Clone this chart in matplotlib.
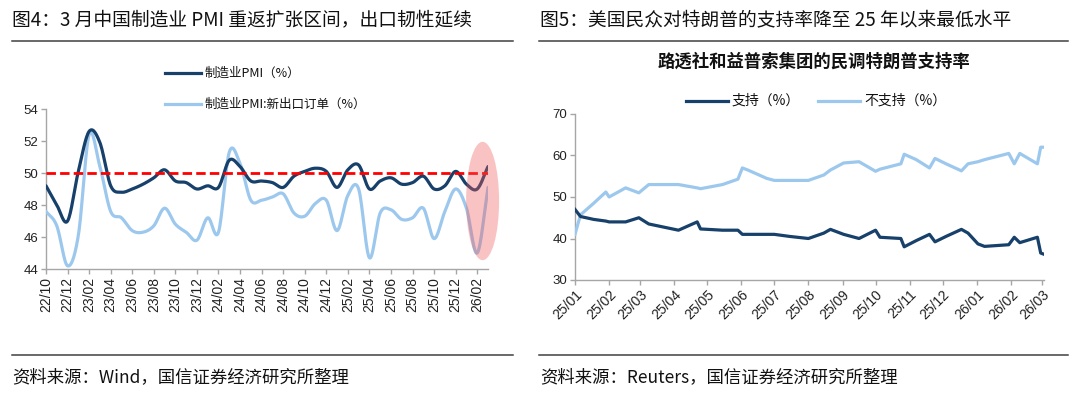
import numpy as np
import pandas as pd
import matplotlib
matplotlib.use('Agg')
import matplotlib.pyplot as plt
from matplotlib.lines import Line2D
from matplotlib.patches import Ellipse

plt.rcParams['font.family'] = ['Noto Sans CJK SC', 'DejaVu Sans']

# ---------------- data: figure 4 ----------------
pmi_months = list(pd.period_range('2022-10', '2026-03', freq='M').strftime('%y/%m'))
pmi = [49.2, 48.0, 47.0,
       50.1, 52.6, 51.9, 49.2, 48.8, 49.0, 49.3, 49.7, 50.2, 49.5, 49.4, 49.0,
       49.2, 49.1, 50.8, 50.4, 49.5, 49.5, 49.4, 49.1, 49.8, 50.1, 50.3, 50.1,
       49.1, 50.2, 50.5, 49.0, 49.5, 49.7, 49.3, 49.4, 49.8, 49.0, 49.2, 50.1,
       49.3, 49.0, 50.4]
pmi_export = [47.6, 46.7, 44.2,
              46.1, 52.4, 50.4, 47.6, 47.2, 46.4, 46.3, 46.7, 47.8, 46.8, 46.3, 45.8,
              47.2, 46.3, 51.3, 50.6, 48.3, 48.3, 48.5, 48.7, 47.5, 47.3, 48.1, 48.3,
              46.4, 48.6, 49.0, 44.7, 47.5, 47.7, 47.1, 47.2, 47.8, 45.9, 47.6, 49.0,
              47.8, 45.0, 49.1]
threshold = 50
left_series = ['制造业PMI（%）', '制造业PMI:新出口订单（%）']

# ---------------- data: figure 5 ----------------
poll_dates = ['2025-01-20', '2025-01-25', '2025-02-06', '2025-02-17', '2025-02-20',
              '2025-03-07', '2025-03-19', '2025-03-28', '2025-04-24', '2025-05-11',
              '2025-05-14', '2025-06-03', '2025-06-17', '2025-06-21', '2025-06-26',
              '2025-07-13', '2025-07-20', '2025-08-03', '2025-08-20', '2025-09-03',
              '2025-09-09', '2025-09-21', '2025-10-05', '2025-10-20', '2025-10-24',
              '2025-11-12', '2025-11-15', '2025-11-26', '2025-12-08', '2025-12-13',
              '2025-12-23', '2026-01-06', '2026-01-12', '2026-01-21', '2026-01-27',
              '2026-02-18', '2026-02-23', '2026-02-28', '2026-03-16', '2026-03-19',
              '2026-03-22']
approve = [47, 45.3, 44.6, 44.2, 44, 44, 45, 43.5, 42, 44,
           42.3, 42, 42, 41, 41, 41, 41, 40.5, 40, 41.3,
           42.2, 41, 40, 42, 40.3, 40, 38, 39.5, 41, 39.2,
           40.5, 42.2, 41.3, 38.7, 38.1, 38.5, 40.3, 39, 40.3, 36.5,
           36.2]
disapprove = [41, 45.7, 48.5, 51.2, 50, 52.2, 51, 53, 53, 52.2,
              52, 53, 54.3, 57, 56.5, 54.5, 54, 54, 54, 55.3,
              56.5, 58.2, 58.5, 56.2, 56.7, 58, 60.3, 59, 57, 59.3,
              58, 56.3, 58, 58.5, 59, 60.5, 58, 60.5, 58, 62,
              62]
right_series = ['支持（%）', '不支持（%）']

titles = ['图4：3 月中国制造业 PMI 重返扩张区间，出口韧性延续',
          '图5：美国民众对特朗普的支持率降至 25 年以来最低水平']
subtitle = '路透社和益普索集团的民调特朗普支持率'
sources = ['资料来源：Wind，国信证券经济研究所整理',
           '资料来源：Reuters，国信证券经济研究所整理']

# ---------------- style ----------------
DARK = '#17406a'
LIGHT = '#9dc8ee'
SPINE = '#a6a6a6'
W, H = 1080, 395
NUM_FONT = 'Liberation Sans'


def fx(x):
    return x / W


def fy(y):
    return 1 - y / H


def smooth(x, y, n=16):
    P = np.column_stack([np.asarray(x, float), np.asarray(y, float)])
    Pe = np.vstack([2 * P[0] - P[1], P, 2 * P[-1] - P[-2]])
    t = np.linspace(0, 1, n, endpoint=False)[:, None]
    h00 = 2 * t**3 - 3 * t**2 + 1
    h10 = t**3 - 2 * t**2 + t
    h01 = -2 * t**3 + 3 * t**2
    h11 = t**3 - t**2
    out = []
    for i in range(1, len(Pe) - 2):
        p0, p1, p2, p3 = Pe[i - 1:i + 3]
        m1 = (p2 - p0) / 2
        m2 = (p3 - p1) / 2
        out.append(h00 * p1 + h10 * m1 + h01 * p2 + h11 * m2)
    out.append(P[-1:])
    S = np.vstack(out)
    return S[:, 0], S[:, 1]


fig = plt.figure(figsize=(W / 100, H / 100), dpi=100)

# header / footer rules and texts
for (x0, x1) in [(12, 513), (539, 1068)]:
    for yy in (41, 355):
        fig.add_artist(Line2D([fx(x0), fx(x1)], [fy(yy), fy(yy)], color='#404040', lw=1.1))
fig.text(fx(12), fy(20), titles[0], fontsize=13.5, va='center', ha='left', color='#111')
fig.text(fx(540), fy(20), titles[1], fontsize=13.5, va='center', ha='left', color='#111')
fig.text(fx(12), fy(377), sources[0], fontsize=12.5, va='center', ha='left', color='#111')
fig.text(fx(540), fy(377), sources[1], fontsize=12.5, va='center', ha='left', color='#111')

# ---------------- left chart ----------------
axL = fig.add_axes([fx(46), fy(269), (488 - 46) / W, (269 - 109) / H])
idx = np.arange(len(pmi_months))
xs, ys = smooth(idx, pmi_export)
axL.plot(xs, ys, color=LIGHT, lw=2.3, solid_capstyle='round', zorder=3)
xs, ys = smooth(idx, pmi)
axL.plot(xs, ys, color=DARK, lw=2.3, solid_capstyle='round', zorder=4)
axL.axhline(threshold, color='#ff0000', lw=2.0, linestyle=(0, (3.4, 1.5)), zorder=5)
ell = Ellipse((40.5, 48.25), width=3.06, height=7.4, facecolor='#f05a5a', alpha=0.36,
              edgecolor='none', zorder=6, clip_on=False)
axL.add_patch(ell)
axL.set_xlim(0, len(pmi_months) - 1)
axL.set_ylim(44, 54)
axL.set_yticks(np.arange(44, 55, 2))
axL.set_xticks(idx[::2])
axL.set_xticklabels(pmi_months[::2], rotation=90, fontsize=10, family=NUM_FONT)
for lab in axL.get_yticklabels():
    lab.set_family(NUM_FONT)
axL.tick_params(axis='y', labelsize=9.5)

# ---------------- right chart ----------------
axR = fig.add_axes([fx(575), fy(280), (1044 - 575) / W, (280 - 114) / H])
dates = pd.to_datetime(poll_dates)
axR.plot(dates, disapprove, color=LIGHT, lw=2.3, solid_joinstyle='round', zorder=3)
axR.plot(dates, approve, color=DARK, lw=2.3, solid_joinstyle='round', zorder=4)
axR.set_ylim(30, 70)
axR.set_yticks(np.arange(30, 71, 10))
axR.set_xlim(dates[0], dates[-1])
tick_dates = pd.date_range('2025-01-01', '2026-03-01', freq='MS') + pd.Timedelta(days=19)
axR.set_xticks(tick_dates)
axR.set_xticklabels([d.strftime('%y/%m') for d in tick_dates], rotation=45, ha='right',
                    rotation_mode='anchor', fontsize=10, family=NUM_FONT)
for lab in axR.get_yticklabels():
    lab.set_family(NUM_FONT)
axR.tick_params(axis='y', labelsize=9.5)

for ax in (axL, axR):
    for s in ('top', 'right'):
        ax.spines[s].set_visible(False)
    for s in ('left', 'bottom'):
        ax.spines[s].set_color(SPINE)
        ax.spines[s].set_linewidth(1.0)
    ax.tick_params(direction='out', length=3.5, width=1.0, color=SPINE, labelcolor='#222', pad=2)
    ax.set_facecolor('none')


# ---------------- legends (manual) ----------------
def legend_entry(x0, x1, y, color, label, size):
    fig.add_artist(Line2D([fx(x0), fx(x1)], [fy(y), fy(y)], color=color, lw=2.3))
    fig.text(fx(x1 + 4), fy(y), label, fontsize=size, va='center', ha='left', color='#111')


legend_entry(165, 201, 73, DARK, left_series[0], 9)
legend_entry(165, 201, 104, LIGHT, left_series[1], 9)
fig.text(fx(814), fy(62), subtitle, fontsize=12.5, fontweight='bold', ha='center', va='center', color='#111')
legend_entry(686, 728, 101, DARK, right_series[0], 10)
legend_entry(818, 860, 101, LIGHT, right_series[1], 10)

fig.savefig('out.png', dpi=100, facecolor='white')
